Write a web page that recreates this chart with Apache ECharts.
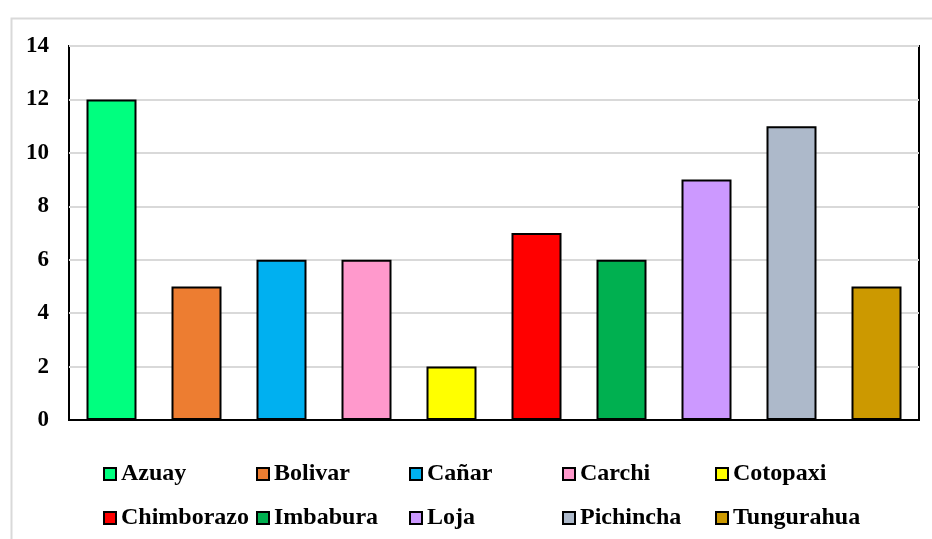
<!DOCTYPE html>
<html>
<head>
<meta charset="utf-8">
<script src="https://cdn.jsdelivr.net/npm/echarts@6/dist/echarts.min.js"></script>
<style>
  html, body { margin: 0; padding: 0; background: #fff; }
  #chart { width: 932px; height: 539px; }
</style>
</head>
<body>
<div id="chart"></div>
<script>
// provincias y valores
const provincias = ['Azuay', 'Bolivar', 'Cañar', 'Carchi', 'Cotopaxi', 'Chimborazo', 'Imbabura', 'Loja', 'Pichincha', 'Tungurahua']
const valores = [12, 5, 6, 6, 2, 7, 6, 9, 11, 5]
const colores = ['#00FF7F', '#ED7D31', '#00B0F0', '#FF99CC', '#FFFF00', '#FF0000', '#00B050', '#CC99FF', '#ADB9CA', '#CC9900']
const yTicks = [0, 2, 4, 6, 8, 10, 12, 14]

const fuente = 'Liberation Serif'

// una serie por provincia para que salga en la leyenda
const series = provincias.map(function (p, i) {
  return {
    name: p,
    type: 'bar',
    stack: 'total',
    barWidth: 50,
    itemStyle: { color: colores[i], borderColor: '#000', borderWidth: 2 },
    data: provincias.map(function (c, j) { return j === i ? valores[i] : '-' })
  }
})

// una leyenda por provincia, en dos filas de cinco columnas
const leyendas = provincias.map(function (p, i) {
  return {
    left: 103 + (i % 5) * 153,
    top: i < 5 ? 462 : 506,
    padding: 0,
    itemWidth: 12,
    itemHeight: 12,
    itemGap: 0,
    icon: 'rect',
    itemStyle: { borderColor: '#000', borderWidth: 2 },
    textStyle: { fontFamily: fuente, fontWeight: 'bold', fontSize: 24, color: '#000' },
    data: [p]
  }
})

const chart = echarts.init(document.getElementById('chart'))
chart.setOption({
  animation: false,
  graphic: [{
    type: 'rect',
    left: 9, top: 16,
    shape: { width: 940, height: 540 },
    style: { fill: 'none', stroke: '#D9D9D9', lineWidth: 2 },
    silent: true
  }],
  grid: { left: 69, right: 13, top: 46, bottom: 119, show: true, borderColor: '#000', borderWidth: 2 },
  legend: leyendas,
  xAxis: {
    type: 'category',
    data: provincias,
    axisLine: { show: true, lineStyle: { color: '#000', width: 2 } },
    axisTick: { show: false },
    axisLabel: { show: false }
  },
  yAxis: {
    type: 'value',
    min: yTicks[0],
    max: yTicks[yTicks.length - 1],
    interval: 2,
    axisLine: { show: false },
    axisTick: { show: false },
    splitLine: { lineStyle: { color: '#D9D9D9', width: 2 } },
    axisLabel: { margin: 20, fontFamily: fuente, fontWeight: 'bold', fontSize: 23, color: '#000' }
  },
  series: series
})
</script>
</body>
</html>
